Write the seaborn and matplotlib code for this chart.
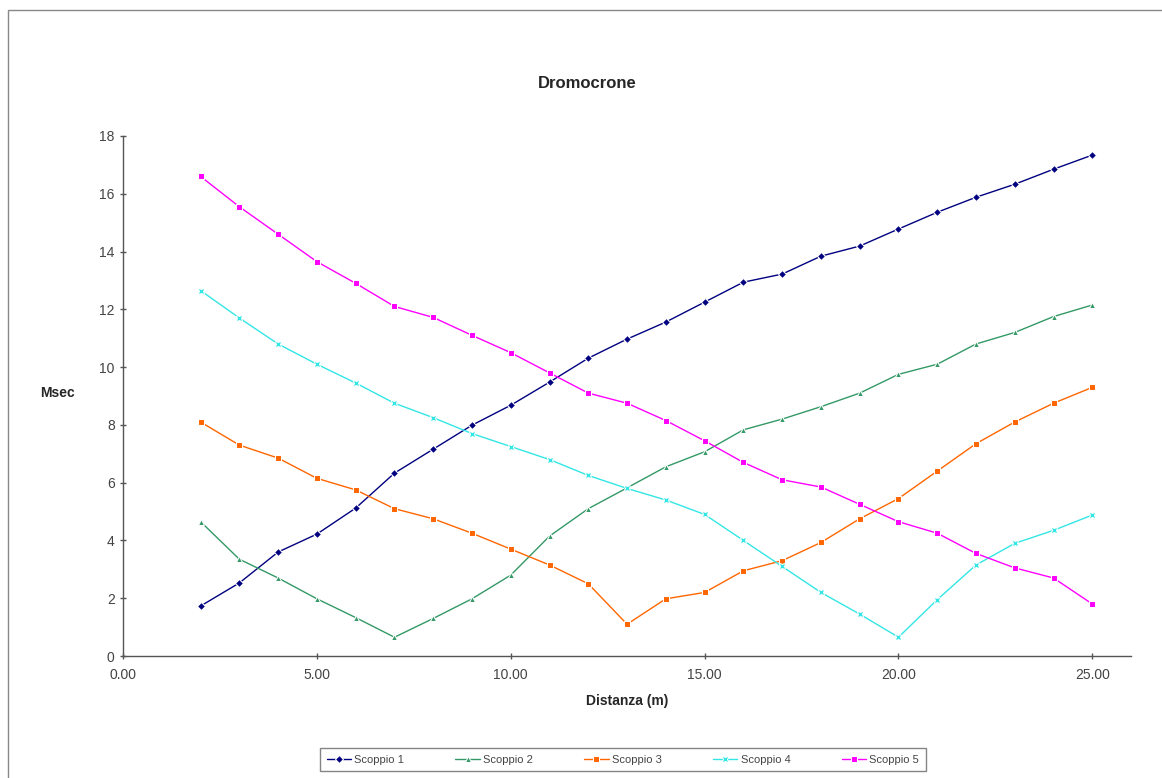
import pandas as pd
import matplotlib.pyplot as plt
import seaborn as sns
from matplotlib.patches import Rectangle
from matplotlib.ticker import FormatStrFormatter

distanza = list(range(2, 26))

scoppio_1 = [1.73, 2.53, 3.60, 4.22, 5.12, 6.33, 7.16, 7.99, 8.68, 9.48, 10.31, 10.97,
             11.56, 12.25, 12.94, 13.22, 13.84, 14.19, 14.78, 15.36, 15.88, 16.33, 16.85, 17.34]
scoppio_2 = [4.65, 3.35, 2.70, 1.98, 1.33, 0.65, 1.30, 1.98, 2.80, 4.15, 5.10, 5.82,
             6.55, 7.07, 7.83, 8.20, 8.63, 9.10, 9.75, 10.10, 10.80, 11.20, 11.75, 12.15]
scoppio_3 = [8.10, 7.30, 6.85, 6.15, 5.75, 5.10, 4.75, 4.25, 3.70, 3.15, 2.50, 1.10,
             1.98, 2.20, 2.95, 3.30, 3.93, 4.75, 5.45, 6.40, 7.35, 8.10, 8.75, 9.30]
scoppio_4 = [12.65, 11.70, 10.80, 10.10, 9.45, 8.75, 8.25, 7.70, 7.25, 6.80, 6.25, 5.80,
             5.40, 4.90, 4.00, 3.10, 2.20, 1.45, 0.65, 1.95, 3.15, 3.90, 4.35, 4.88]
scoppio_5 = [16.60, 15.55, 14.60, 13.65, 12.90, 12.10, 11.72, 11.10, 10.50, 9.80, 9.10, 8.75,
             8.15, 7.45, 6.70, 6.10, 5.85, 5.25, 4.65, 4.25, 3.55, 3.05, 2.70, 1.80]

serie_nomi = ['Scoppio 1', 'Scoppio 2', 'Scoppio 3', 'Scoppio 4', 'Scoppio 5']
serie_valori = [scoppio_1, scoppio_2, scoppio_3, scoppio_4, scoppio_5]

# long format per seaborn
frames = []
for nome, valori in zip(serie_nomi, serie_valori):
    frames.append(pd.DataFrame({'Distanza': distanza, 'Msec': valori, 'Serie': nome}))
df = pd.concat(frames, ignore_index=True)

colori = {'Scoppio 1': '#000080', 'Scoppio 2': '#339966', 'Scoppio 3': '#FF6600',
          'Scoppio 4': '#33E6E6', 'Scoppio 5': '#FF00FF'}
marcatori = {'Scoppio 1': 'D', 'Scoppio 2': '^', 'Scoppio 3': 's',
             'Scoppio 4': 'X', 'Scoppio 5': 's'}

sns.set_style('white')
plt.rcParams['font.family'] = ['Liberation Sans', 'DejaVu Sans']

fig = plt.figure(figsize=(11.62, 7.78), dpi=100)
ax = fig.add_axes([0.1059, 0.1568, 0.8675, 0.6684])

sns.lineplot(data=df, x='Distanza', y='Msec', hue='Serie', style='Serie',
             palette=colori, markers=marcatori, dashes=False, linewidth=1,
             markersize=5, ax=ax)

# rombi un po' piu piccoli
for linea in ax.lines:
    if linea.get_marker() == 'D':
        linea.set_markersize(3.8)

ax.set_xlim(0, 26)
ax.set_ylim(0, 18)
ax.set_xticks([0, 5, 10, 15, 20, 25])
ax.set_yticks(range(0, 19, 2))
ax.xaxis.set_major_formatter(FormatStrFormatter('%.2f'))

for lato in ['top', 'right']:
    ax.spines[lato].set_visible(False)
for lato in ['left', 'bottom']:
    ax.spines[lato].set_color('#555555')
    ax.spines[lato].set_linewidth(1)
ax.tick_params(axis='both', direction='inout', length=5, width=1, color='#555555',
               labelsize=10, labelcolor='#444444', bottom=True, left=True)
ax.tick_params(axis='x', pad=6)

ax.set_xlabel('Distanza (m)', fontsize=10, fontweight='bold')
ax.xaxis.set_label_coords(0.5, -0.073)
ax.set_ylabel('Msec', fontsize=10, fontweight='bold', rotation=0, ha='center', va='center')
ax.yaxis.set_label_coords(-0.0655, 0.506)

fig.text(0.505, 1 - 83 / 778, 'Dromocrone', fontsize=12, fontweight='bold',
         ha='center', va='center')

# legenda in basso
handles, labels = ax.get_legend_handles_labels()
coppie = [(h, l) for h, l in zip(handles, labels) if l in serie_nomi]
ax.get_legend().remove()
leg = fig.legend([h for h, l in coppie], [l for h, l in coppie], loc='upper center',
                 bbox_to_anchor=(0.536, 1 - 748 / 778), ncol=5, fontsize=8,
                 frameon=True, fancybox=False, edgecolor='#666666',
                 borderaxespad=0, columnspacing=4.6, handlelength=2.2,
                 handletextpad=0.3, borderpad=0.6)
leg.get_frame().set_linewidth(1)
for t in leg.get_texts():
    t.set_color('#444444')

# bordo dell'area grafico
fig.patches.append(Rectangle((8 / 1162, -0.1), 1.2, 1.1 - 10 / 778, transform=fig.transFigure,
                             fill=False, edgecolor='#888888', linewidth=1))

fig.savefig('out.png', dpi=100)
